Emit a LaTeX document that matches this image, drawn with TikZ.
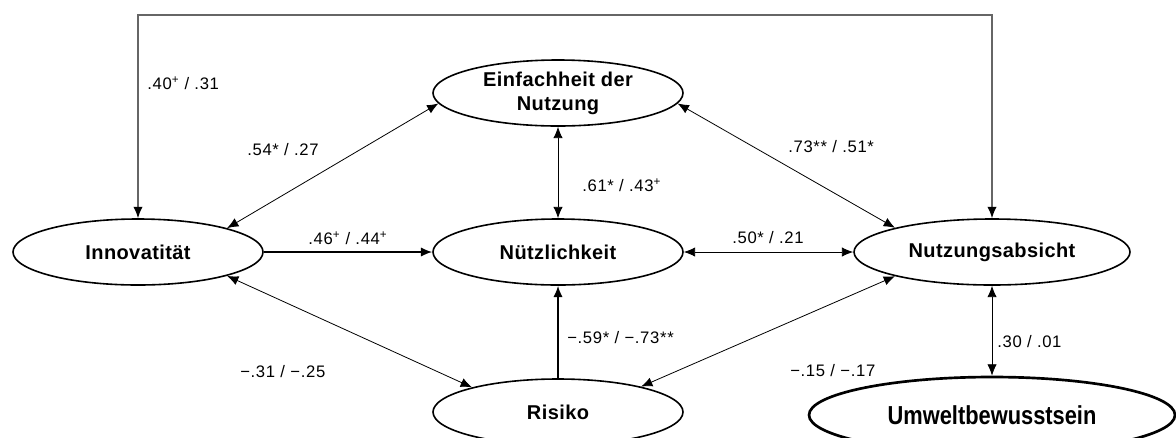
\documentclass[tikz,border=0pt]{standalone}
\usepackage{fontspec}
\setmainfont{Liberation Sans}
\newfontfamily\coeffont[LetterSpace=4]{Liberation Sans}
\newfontfamily\varfont[LetterSpace=2]{Liberation Sans}
\newfontfamily\narrowfont[FakeStretch=0.84]{Liberation Sans}
\usetikzlibrary{shapes, arrows.meta, positioning}
\tikzstyle{latent} = [draw, ellipse, line width=1.2pt, fill=white, inner sep=0pt, minimum width=187.5pt, minimum height=49.5pt, align=center, font=\varfont\fontsize{15}{18}\selectfont\bfseries]
\tikzstyle{coef} = [anchor=west, inner sep=0pt, font=\coeffont\fontsize{12.5}{14}\selectfont]
\tikzstyle{corr} = [<->, line width=0.6pt]
\tikzstyle{effect} = [->, line width=1.2pt]
\newcommand{\sig}[1]{\textsuperscript{#1}}

\begin{document}
\begin{tikzpicture}[x=0.75pt, y=0.75pt, node distance=315pt, >={Latex[length=8.5pt, width=7pt]}]
    \useasboundingbox (0,0) rectangle (1176,-437);
    \node [latent] (innov) at (138,-252) {Innovatität};
    \node [latent, right of=innov] (nuetz) {Nützlichkeit};
    \node [latent, right of=nuetz, node distance=325.5pt, minimum width=207pt] (absicht) {Nutzungsabsicht};
    \node [latent, above of=nuetz, node distance=119.25pt] (einfach) {Einfachheit der\\Nutzung};
    \node [latent, below of=nuetz, node distance=120pt] (risiko) {Risiko};
    \node [latent, below of=absicht, node distance=122.25pt, line width=2pt, minimum width=274.5pt, minimum height=57pt, font=\narrowfont\fontsize{19.5}{22}\selectfont\bfseries] (umwelt) {Umweltbewusstsein};
    \coordinate (rail) at (560,-15);
    \draw [<->, line width=1pt, draw=black!60, >={Latex[length=8.5pt, width=7pt, color=black]}] (innov.north) |- (rail) -| (absicht.north);
    \draw [corr] (innov.15) -- (einfach.185);
    \draw [corr] (einfach.south) -- (nuetz.north);
    \draw [corr] (einfach.-5) -- (absicht.166);
    \draw [effect] (innov.east) -- (nuetz.west);
    \draw [corr] (nuetz.east) -- (absicht.west);
    \draw [corr] (innov.-15) -- (risiko.164);
    \draw [effect] (risiko.north) -- (nuetz.south);
    \draw [corr] (risiko.17) -- (absicht.194);
    \draw [corr] (absicht.south) -- (umwelt.north);
    % path coefficients
    \node [coef] (l40) at (147,-83) {.40\sig{+} / .31};
    \node [coef] (l54) at (247,-150) {.54* / .27};
    \node [coef] (l61) at (582,-185) {.61* / .43\sig{+}};
    \node [coef] (l73) at (788,-147) {.73** / .51*};
    \node [coef] (l46) at (308,-238) {.46\sig{+} / .44\sig{+}};
    \node [coef] (l50) at (732,-238) {.50* / .21};
    \node [coef] (l31) at (240,-372) {−.31 / −.25};
    \node [coef] (l59) at (567,-338) {−.59* / −.73**};
    \node [coef] (l15) at (790,-371) {−.15 / −.17};
    \node [coef] (l30) at (997,-342) {.30 / .01};
\end{tikzpicture}
\end{document}
